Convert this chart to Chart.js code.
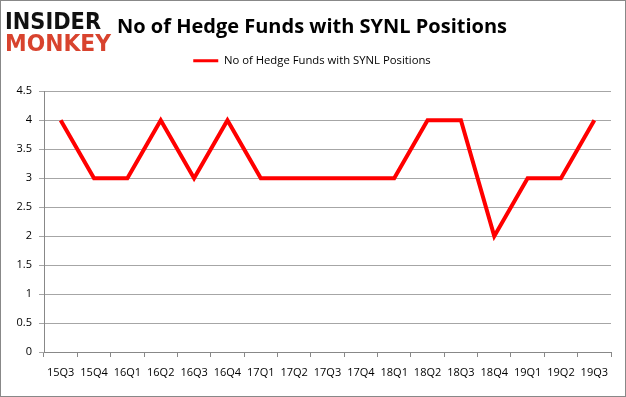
<!DOCTYPE html>
<html>
<head>
<meta charset="utf-8">
<script src="https://cdn.jsdelivr.net/npm/chart.js@4.4.0/dist/chart.umd.min.js"></script>
<style>
  html, body { margin: 0; padding: 0; background: #fff; }
  #wrap { width: 624px; height: 395px; border: 1px solid #888; position: relative; }
  canvas { display: block; }
</style>
</head>
<body>
<div id="wrap"><canvas id="chart" width="624" height="395"></canvas></div>
<script>
// Données du graphique
const quarters = ['15Q3', '15Q4', '16Q1', '16Q2', '16Q3', '16Q4', '17Q1', '17Q2', '17Q3',
    '17Q4', '18Q1', '18Q2', '18Q3', '18Q4', '19Q1', '19Q2', '19Q3'];
const hedgeFunds = [4, 3, 3, 4, 3, 4, 3, 3, 3, 3, 3, 4, 4, 2, 3, 3, 4];
const seriesLabel = 'No of Hedge Funds with SYNL Positions';
const chartTitle = 'No of Hedge Funds with SYNL Positions';

const tickFont = { family: 'Open Sans', size: 11 };

// Logo "Insider Monkey" dessiné en haut à gauche
const logoPlugin = {
    id: 'logo',
    afterDraw(chart) {
        const ctx = chart.ctx;
        ctx.save();
        ctx.textBaseline = 'alphabetic';
        ctx.textAlign = 'left';
        ctx.font = 'bold 23px "DejaVu Sans"';
        ctx.fillStyle = '#111';
        ctx.fillText('INSIDER', 4, 28, 96);
        ctx.fillStyle = '#d8432e';
        ctx.fillText('MONKEY', 4, 50, 106);
        ctx.restore();
    }
};

// Espace supplémentaire sous la légende (la zone du graphique commence plus bas)
const legendSpacePlugin = {
    id: 'legendSpace',
    beforeLayout(chart) {
        const legend = chart.legend;
        if (legend && !legend._patched) {
            const origFit = legend.fit;
            legend.fit = function () {
                origFit.call(this);
                this.height += 15;
            };
            legend._patched = true;
        }
    }
};

const ctx = document.getElementById('chart').getContext('2d');
new Chart(ctx, {
    type: 'line',
    data: {
        labels: quarters,
        datasets: [{
            label: seriesLabel,
            data: hedgeFunds,
            borderColor: '#ff0000',
            backgroundColor: '#ff0000',
            borderWidth: 4,
            pointRadius: 0,
            tension: 0
        }]
    },
    options: {
        responsive: false,
        animation: false,
        layout: { padding: { left: 12, right: 14, top: 0, bottom: 0 } },
        plugins: {
            title: {
                display: true,
                text: chartTitle,
                color: '#000',
                font: { family: 'Open Sans', size: 20, weight: 'bold' },
                padding: { top: 14, bottom: 12 }
            },
            legend: {
                display: true,
                labels: {
                    color: '#000',
                    font: { family: 'Open Sans', size: 11.3 },
                    boxWidth: 25,
                    boxHeight: 3,
                    padding: 4,
                    generateLabels(chart) {
                        return Chart.defaults.plugins.legend.labels.generateLabels(chart)
                            .map(item => Object.assign(item, { lineWidth: 0, fillStyle: '#ff0000' }));
                    }
                }
            },
            tooltip: { enabled: false }
        },
        scales: {
            x: {
                offset: true,
                grid: {
                    offset: true,
                    drawOnChartArea: false,
                    color: '#888',
                    tickLength: 5
                },
                border: { color: '#888' },
                ticks: { color: '#000', font: tickFont, maxRotation: 0, autoSkip: false, padding: 9 },
                afterFit(scale) { scale.height = 44; }
            },
            y: {
                min: 0,
                max: 4.5,
                ticks: {
                    stepSize: 0.5,
                    color: '#000',
                    font: tickFont,
                    padding: 7,
                    callback: value => String(value)
                },
                grid: { color: '#a6a6a6', tickLength: 5 },
                border: { color: '#888' },
                afterFit(scale) { scale.width = 31; }
            }
        }
    },
    plugins: [logoPlugin, legendSpacePlugin]
});
</script>
</body>
</html>
